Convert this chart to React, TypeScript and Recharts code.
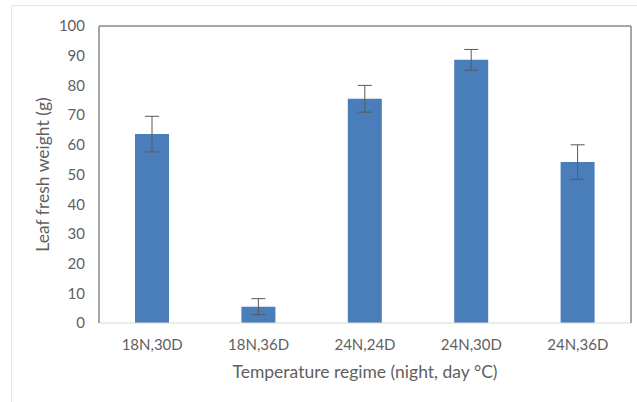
import { BarChart, Bar, XAxis, YAxis, ErrorBar, Label } from 'recharts'

const regimes = ['18N,30D', '18N,36D', '24N,24D', '24N,30D', '24N,36D']
const weights = [63.6, 5.5, 75.5, 88.6, 54.2]
const errors = [6.0, 2.7, 4.5, 3.5, 5.8]
const yTicks = [0, 10, 20, 30, 40, 50, 60, 70, 80, 90, 100]

const data = regimes.map((r, i) => ({ regime: r, weight: weights[i], err: errors[i] }))

const FONT = 'Lato, sans-serif'
const TICK = { fontSize: 15, fill: '#5f5f5f', fontFamily: FONT }
const TITLE = { fontSize: 17.5, fill: '#5f5f5f', fontFamily: FONT }
const FRAME = { stroke: '#888888', strokeWidth: 1.5 }

export default function App() {
  return (
    <div style={{ position: 'absolute', left: 0, top: 0, width: 637, height: 402, background: '#fff' }}>
      {/* faint outer frame of the figure */}
      <div style={{ position: 'absolute', left: 11, top: 5, right: 0, bottom: 0, borderTop: '1px solid #e6e6e6', borderLeft: '1px solid #e6e6e6' }} />
      <BarChart
        width={637}
        height={402}
        data={data}
        margin={{ top: 25, right: 5, bottom: 0, left: 0 }}
        style={{ position: 'absolute', left: 0, top: 0 }}
      >
        <XAxis xAxisId="top" orientation="top" dataKey="regime" height={1} tick={false} tickLine={false} axisLine={FRAME} />
        <XAxis
          dataKey="regime"
          height={79}
          tick={TICK}
          tickLine={false}
          tickMargin={10}
          axisLine={{ stroke: '#d9d9d9' }}
        >
          <Label value="Temperature regime (night, day °C)" position="insideTop" offset={43} style={TITLE} />
        </XAxis>
        <YAxis
          domain={[0, 100]}
          ticks={yTicks}
          width={99}
          tick={TICK}
          tickLine={false}
          tickMargin={8}
          axisLine={FRAME}
        >
          <Label value="Leaf fresh weight (g)" angle={-90} position="insideLeft" offset={43} style={{ ...TITLE, textAnchor: 'middle' }} />
        </YAxis>
        <YAxis yAxisId="right" orientation="right" width={1} domain={[0, 100]} tick={false} tickLine={false} axisLine={FRAME} />
        <Bar dataKey="weight" fill="#4a7ebb" barSize={34} isAnimationActive={false}>
          <ErrorBar dataKey="err" width={7} stroke="#595959" strokeWidth={1} />
        </Bar>
      </BarChart>
    </div>
  )
}
